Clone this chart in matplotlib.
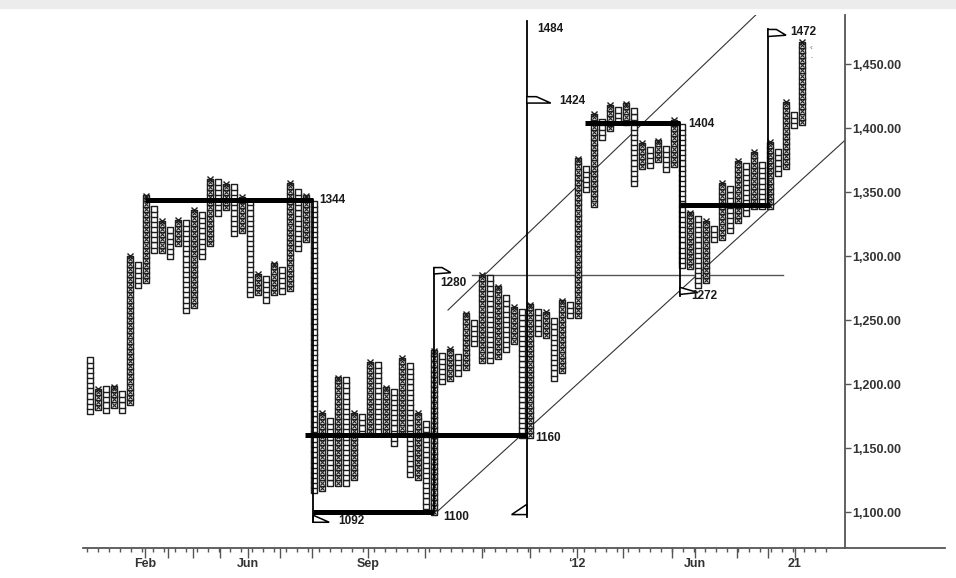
import numpy as np
import matplotlib.pyplot as plt
from matplotlib.patches import Polygon, Rectangle
from matplotlib.lines import Line2D

plt.rcParams['font.family'] = ['Liberation Sans', 'DejaVu Sans']

# point & figure columns (price low / high per column), box = 4 points
box = 4
kinds = ['O', 'X'] * 45
lows = [1179, 1182, 1180, 1184, 1180, 1186, 1277, 1281, 1305, 1305,
        1300, 1310, 1258, 1262, 1300, 1310, 1334, 1338, 1318, 1320,
        1270, 1272, 1266, 1272, 1273, 1275, 1306, 1313, 1117, 1119,
        1123, 1123, 1123, 1127, 1162, 1163, 1163, 1163, 1154, 1162,
        1130, 1127, 1105, 1100, 1202, 1205, 1209, 1213, 1232, 1219,
        1219, 1222, 1227, 1234, 1160, 1160, 1240, 1238, 1205, 1211,
        1254, 1254, 1352, 1341, 1393, 1400, 1406, 1405, 1357, 1370,
        1371, 1376, 1368, 1372, 1293, 1292, 1277, 1281, 1313, 1315,
        1320, 1328, 1334, 1339, 1339, 1339, 1365, 1370, 1402, 1405]
highs = [1221, 1195, 1194, 1197, 1193, 1297, 1293, 1343, 1338, 1324,
         1320, 1328, 1326, 1334, 1330, 1359, 1357, 1355, 1353, 1344,
         1341, 1284, 1281, 1291, 1288, 1353, 1349, 1344, 1341, 1173,
         1170, 1205, 1202, 1177, 1174, 1216, 1214, 1197, 1194, 1216,
         1213, 1173, 1170, 1224, 1221, 1224, 1221, 1252, 1250, 1285,
         1282, 1273, 1269, 1260, 1258, 1259, 1256, 1252, 1250, 1264,
         1262, 1373, 1370, 1409, 1405, 1417, 1414, 1417, 1414, 1385,
         1382, 1389, 1385, 1402, 1401, 1334, 1330, 1326, 1323, 1357,
         1354, 1373, 1370, 1377, 1373, 1385, 1381, 1416, 1412, 1465]

# x axis labels (column positions)
tick_pos = [6.9, 19.75, 34.75, 60.9, 75.6, 88.1]
tick_lab = ['Feb', 'Jun', 'Sep', '\u201812', 'Jun', '21']
major_pos = [6.9, 9.75, 12.9, 16.25, 19.75, 23.75, 27.75, 34.75, 41.9, 49.0,
             55.0, 60.9, 66.6, 72.75, 75.6, 80.9, 84.75, 88.1]

# support / resistance levels: (x from, x to, price)
thick_levels = [(6.9, 27.9, 1344), (27.9, 43.0, 1100), (26.9, 54.6, 1160),
                (61.9, 73.75, 1404), (73.75, 85.0, 1340)]
# vertical count lines: (x, price from, price to)
count_lines = [(27.9, 1344, 1092), (43.0, 1100, 1291), (54.6, 1096, 1484),
               (73.75, 1404, 1269), (84.75, 1340, 1477)]
labels = [(28.7, 1344, '1344'), (31.0, 1093, '1092'), (44.1, 1096, '1100'),
          (43.8, 1279, '1280'), (55.6, 1158, '1160'), (55.9, 1477, '1484'),
          (58.7, 1421, '1424'), (74.8, 1403, '1404'), (75.1, 1269, '1272'),
          (87.5, 1475, '1472')]

fig = plt.figure(figsize=(9.56, 5.78), dpi=100)
fig.patches.append(Rectangle((0, 1 - 8 / 578), 1, 8 / 578, transform=fig.transFigure,
                             color='#ececec', zorder=0))
ax = fig.add_axes([83 / 956, 30 / 578, 762 / 956, 533 / 578])

box_marker = [(-0.62, -0.5), (0.62, -0.5), (0.62, 0.5), (-0.62, 0.5), (-0.62, -0.5)]
for i in range(len(lows)):
    n = int(round((highs[i] - lows[i]) / box)) + 1
    ys = lows[i] + box * np.arange(n)
    ax.plot([i] * n, ys, ls='none', marker=box_marker, ms=5.0, mfc='white',
            mec='#1e1e1e', mew=1.0, zorder=3)
    if kinds[i] == 'X':
        ax.plot([i] * n, ys, ls='none', marker='x', ms=3.2, mec='#1e1e1e',
                mew=0.8, zorder=4)
        ax.plot([i], [ys[-1] + 2], ls='none', marker='x', ms=4.2, mec='#1e1e1e',
                mew=1.0, zorder=4)

for x0, x1, y in thick_levels:
    ax.plot([x0, x1], [y, y], color='black', lw=3.6, solid_capstyle='butt', zorder=5)
for x, y0, y1 in count_lines:
    ax.plot([x, x], [y0, y1], color='black', lw=1.3, zorder=5)

# target flags
flags = [[(27.9, 1097.5), (29.9, 1092), (27.9, 1092)],
         [(43.0, 1291), (44.0, 1291), (45.1, 1287), (43.0, 1286)],
         [(54.6, 1424.5), (55.8, 1424.5), (57.6, 1419.5), (54.6, 1419.5)],
         [(52.7, 1098), (54.6, 1106), (54.6, 1098)],
         [(73.75, 1275.5), (76.0, 1271.5), (73.75, 1270)],
         [(84.75, 1477), (85.8, 1477), (87.0, 1472.5), (84.75, 1471.5)]]
for f in flags:
    ax.add_patch(Polygon(f, closed=True, fc='white', ec='black', lw=1.1, zorder=6))

# trend channel and 1285 line
ax.plot([43.0, 94.4], [1098, 1390.6], color='#333', lw=0.8, zorder=2)
ax.plot([44.75, 83.5], [1257.8, 1490], color='#333', lw=0.8, zorder=2)
ax.plot([47.75, 86.6], [1285, 1285], color='#555', lw=1.0, zorder=2)

for x, y, t in labels:
    ax.text(x, y, t, fontsize=8.5, fontweight='bold', va='center', ha='left',
            color='#1a1a1a', zorder=7)
ax.text(90.0, 1462, '\u2039', fontsize=6, color='#666', va='center')
ax.text(90.1, 1455, '-', fontsize=5, color='#888', va='center')

ax.set_xlim(-0.875, 94.375)
ax.set_ylim(1071.9, 1488.3)

ax.yaxis.tick_right()
ax.set_yticks(np.arange(1100, 1451, 50))
ax.set_yticklabels(['{:,.2f}'.format(v) for v in np.arange(1100, 1451, 50)])
ax.tick_params(axis='y', length=4, width=1, color='#555', labelsize=9,
               labelcolor='#333', pad=1)
for lab in ax.get_yticklabels():
    lab.set_fontweight('bold')

ax.set_xticks(major_pos)
ax.set_xticklabels([''] * len(major_pos))
ax.set_xticks(np.arange(-0.4, 93, 1.38), minor=True)
ax.tick_params(axis='x', which='major', length=7, width=1, color='#555')
ax.tick_params(axis='x', which='minor', length=3, width=1, color='#555')
for p, t in zip(tick_pos, tick_lab):
    ax.text(p, -0.03, t, transform=ax.get_xaxis_transform(), ha='center',
            va='center', fontsize=9, fontweight='bold', color='#333')

for s in ['left', 'top', 'bottom']:
    ax.spines[s].set_visible(False)
ax.spines['right'].set_color('#555')
ax.spines['right'].set_linewidth(1.3)
fig.lines.append(Line2D([83 / 956, 945 / 956], [30 / 578, 30 / 578],
                        transform=fig.transFigure, color='#555', lw=1.3))

plt.savefig('out.png', dpi=100)
